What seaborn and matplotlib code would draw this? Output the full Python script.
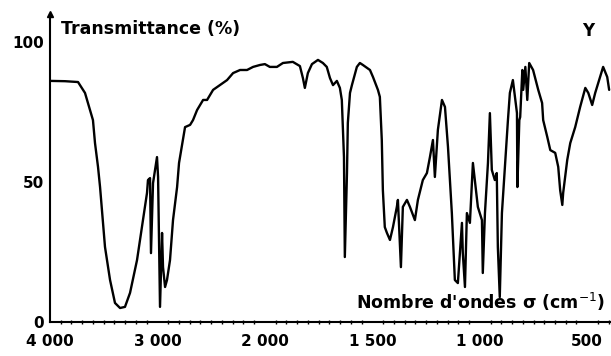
import numpy as np
import pandas as pd
import matplotlib
matplotlib.use("Agg")
import matplotlib.pyplot as plt
import seaborn as sns
from matplotlib.ticker import FixedLocator

# ---- data ----
wavenumber = [3990, 3860, 3739, 3674, 3628, 3600, 3581, 3553, 3534, 3516, 3488, 3441,
              3395, 3348, 3302, 3255, 3190, 3134, 3097, 3088, 3069, 3060, 3041, 3004,
              2994, 2976, 2957, 2948, 2929, 2911, 2883, 2855, 2817, 2799, 2743, 2696,
              2669, 2631, 2575, 2538, 2482, 2445, 2352, 2296, 2231, 2166, 2110, 2045,
              2000, 1977, 1944, 1916, 1870, 1837, 1823, 1814, 1800, 1781, 1753, 1730,
              1712, 1697, 1683, 1665, 1651, 1642, 1632, 1628, 1618, 1614, 1604, 1595,
              1572, 1558, 1544, 1511, 1497, 1474, 1465, 1456, 1451, 1442, 1432, 1418,
              1404, 1386, 1381, 1367, 1358, 1339, 1325, 1302, 1288, 1265, 1246, 1232,
              1218, 1209, 1195, 1176, 1162, 1148, 1130, 1116, 1102, 1083, 1079, 1069,
              1060, 1046, 1032, 1023, 1009, 990, 986, 976, 962, 953, 944, 930, 921,
              916, 907, 897, 883, 869, 860, 846, 827, 825, 816, 812, 802, 798, 788,
              779, 770, 752, 728, 710, 705, 686, 672, 649, 635, 626, 616, 612, 593,
              579, 556, 533, 509, 495, 477, 463, 440, 426, 407, 398]
transmittance = [86.1, 86.0, 85.7, 81.8, 75.7, 72.1, 63.9, 55.4, 48.2, 40.0, 26.8, 15.0,
                 6.8, 5.0, 5.4, 10.4, 22.1, 36.4, 46.1, 50.7, 51.4, 24.6, 49.6, 58.9,
                 51.8, 5.4, 31.8, 19.6, 12.5, 15.0, 22.1, 36.4, 48.2, 56.8, 69.6, 70.4,
                 72.1, 75.7, 79.3, 79.3, 82.9, 83.9, 86.4, 88.9, 90.0, 90.0, 91.1, 91.8,
                 92.1, 91.1, 91.1, 92.5, 92.9, 91.4, 87.1, 83.6, 88.9, 92.1, 93.6, 92.5,
                 91.1, 87.1, 84.6, 86.1, 83.6, 79.3, 58.9, 23.2, 53.2, 71.1, 81.8, 84.6,
                 91.1, 92.5, 91.8, 90.0, 87.5, 82.9, 80.4, 65.0, 47.1, 33.9, 31.8, 29.3,
                 33.9, 41.1, 43.6, 19.6, 41.1, 43.6, 41.1, 36.4, 43.6, 50.7, 53.2, 58.9,
                 65.0, 51.8, 68.6, 79.3, 76.8, 62.5, 38.9, 15.0, 13.9, 35.4, 24.6, 12.5,
                 38.9, 35.4, 56.8, 50.7, 41.1, 36.4, 17.5, 38.9, 56.8, 74.6, 54.3, 50.7, 53.2,
                 26.8, 8.9, 38.9, 55.4, 72.1, 81.8, 86.4, 74.6, 48.2, 72.1, 73.2, 90.0, 82.9, 91.1,
                 79.3, 92.5, 90.0, 82.9, 78.2, 72.1, 66.1, 61.4, 60.4, 55.4, 47.1, 41.8, 46.1, 57.9,
                 63.9, 69.6, 76.8, 83.6, 81.8, 77.5, 81.8, 87.5, 91.1, 87.5, 82.9]

x_ticks = [4000, 3000, 2000, 1500, 1000, 500]
x_tick_labels = ["4 000", "3 000", "2 000", "1 500", "1 000", "500"]
y_ticks = [0, 50, 100]
y_tick_labels = ["0", "50", "100"]

df = pd.DataFrame({"sigma": wavenumber, "T": transmittance})

# ---- IR-style axis: scale doubles below 2000 cm-1 (monotonic increasing map) ----
def forward(s):
    s = np.asarray(s, dtype=float)
    return np.where(s <= 2000, 2 * s, s + 2000)

def inverse(p):
    p = np.asarray(p, dtype=float)
    return np.where(p <= 4000, p / 2, p - 2000)

sns.set_style("white")
plt.rcParams["font.family"] = ["DejaVu Sans"]
plt.rcParams["text.color"] = "black"
plt.rcParams["xtick.color"] = "black"
plt.rcParams["ytick.color"] = "black"

fig = plt.figure(figsize=(6.11, 3.56), dpi=100)
ax = fig.add_axes([0.0818, 0.0955, 0.918, 0.8652])

sns.lineplot(data=df, x="sigma", y="T", sort=False, color="black",
             linewidth=1.7, ax=ax, estimator=None)

ax.set_xscale("function", functions=(forward, inverse))
ax.set_xlim(4000, 390)
ax.set_ylim(0, 110)

ax.xaxis.set_major_locator(FixedLocator(x_ticks))
ax.set_xticklabels(x_tick_labels, fontsize=11, fontweight="bold", color="black")
minor = list(range(3900, 2000, -100)) + list(range(1950, 390, -50))
ax.xaxis.set_minor_locator(FixedLocator(minor))
ax.set_yticks(y_ticks)
ax.set_yticklabels(y_tick_labels, fontsize=11, fontweight="bold", color="black")

ax.tick_params(axis="both", which="major", direction="inout", length=5, width=1.3,
               colors="black")
ax.tick_params(axis="x", which="major", pad=6)
ax.tick_params(axis="y", which="major", pad=2)
ax.tick_params(axis="x", which="minor", direction="inout", length=3, width=1.0,
               bottom=True, colors="black")

for side in ["top", "right"]:
    ax.spines[side].set_visible(False)
for side in ["left", "bottom"]:
    ax.spines[side].set_linewidth(1.5)
    ax.spines[side].set_color("black")

# arrow head at top of y axis
ax.plot(0, 1, marker="^", color="black", markersize=5,
        transform=ax.transAxes, clip_on=False)

ax.set_xlabel("")
ax.set_ylabel("")
ax.text(0.02, 0.982, "Transmittance (%)", transform=ax.transAxes,
        fontsize=12.5, fontweight="bold", ha="left", va="top", color="black")
ax.text(0.96, 0.975, "Y", transform=ax.transAxes,
        fontsize=12, fontweight="bold", ha="center", va="top", color="black")
ax.text(0.99, 0.03, "Nombre d'ondes σ (cm$^{-1}$)", transform=ax.transAxes,
        fontsize=12.5, fontweight="bold", ha="right", va="bottom", color="black")

fig.savefig("out.png", dpi=100)
